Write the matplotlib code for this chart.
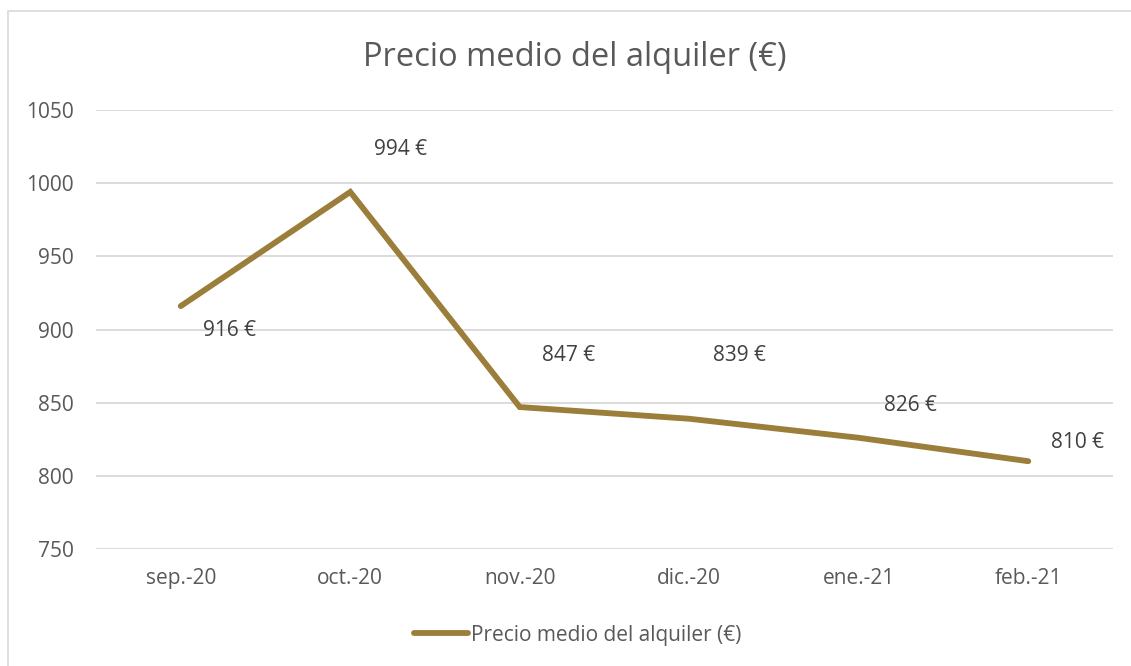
import matplotlib.pyplot as plt
from matplotlib.patches import Rectangle

months = ['sep.-20', 'oct.-20', 'nov.-20', 'dic.-20', 'ene.-21', 'feb.-21']
rent = [916, 994, 847, 839, 826, 810]
series_name = 'Precio medio del alquiler (€)'

# label offsets in pixels (x right, y up), as placed in the original
label_offsets = [(49, -22), (50, 45), (49, 54), (50, 66), (52, 35), (49, 21)]

plt.rcParams['font.family'] = ['Open Sans', 'DejaVu Sans']

W, H = 1131, 666
fig = plt.figure(figsize=(W / 100, H / 100), dpi=100)
ax = fig.add_axes([96 / W, 1 - 549 / H, (1113 - 96) / W, (549 - 110) / H])

# outer chart border
fig.patches.append(Rectangle((8 / W, -0.2), 1.2, 1.2 - 11 / H,
                             transform=fig.transFigure, fill=False,
                             edgecolor='#D9D9D9', linewidth=1.2))

x = range(len(months))
line, = ax.plot(x, rent, color='#9A7E3A', linewidth=4.2,
                solid_capstyle='round', solid_joinstyle='miter', zorder=3)

for i, v in enumerate(rent):
    dx, dy = label_offsets[i]
    ax.annotate(f'{v} €', (i, v), xytext=(dx * 0.72, dy * 0.72 - 2),
                textcoords='offset points', ha='center', va='center',
                fontsize=15, color='#404040')

ax.set_xlim(-0.5, len(months) - 0.5)
ax.set_ylim(750, 1050)
ax.set_yticks(range(750, 1051, 50))
ax.set_xticks(list(x))
ax.set_xticklabels(months)
ax.grid(axis='y', color='#D9D9D9', linewidth=1.3)
ax.set_axisbelow(True)
for s in ax.spines.values():
    s.set_visible(False)
ax.tick_params(length=0, labelsize=15, colors='#595959')
ax.tick_params(axis='y', pad=16)
ax.tick_params(axis='x', pad=14)

fig.text(575 / W, 1 - 58 / H, 'Precio medio del alquiler (€)', ha='center',
         va='center', fontsize=23.5, color='#595959')

fig.legend([line], [series_name], loc='center', bbox_to_anchor=(578 / W, 1 - 635 / H),
           frameon=False, fontsize=15, labelcolor='#595959', handlelength=2.6,
           handletextpad=0.15)

fig.savefig('out.png', dpi=100)
